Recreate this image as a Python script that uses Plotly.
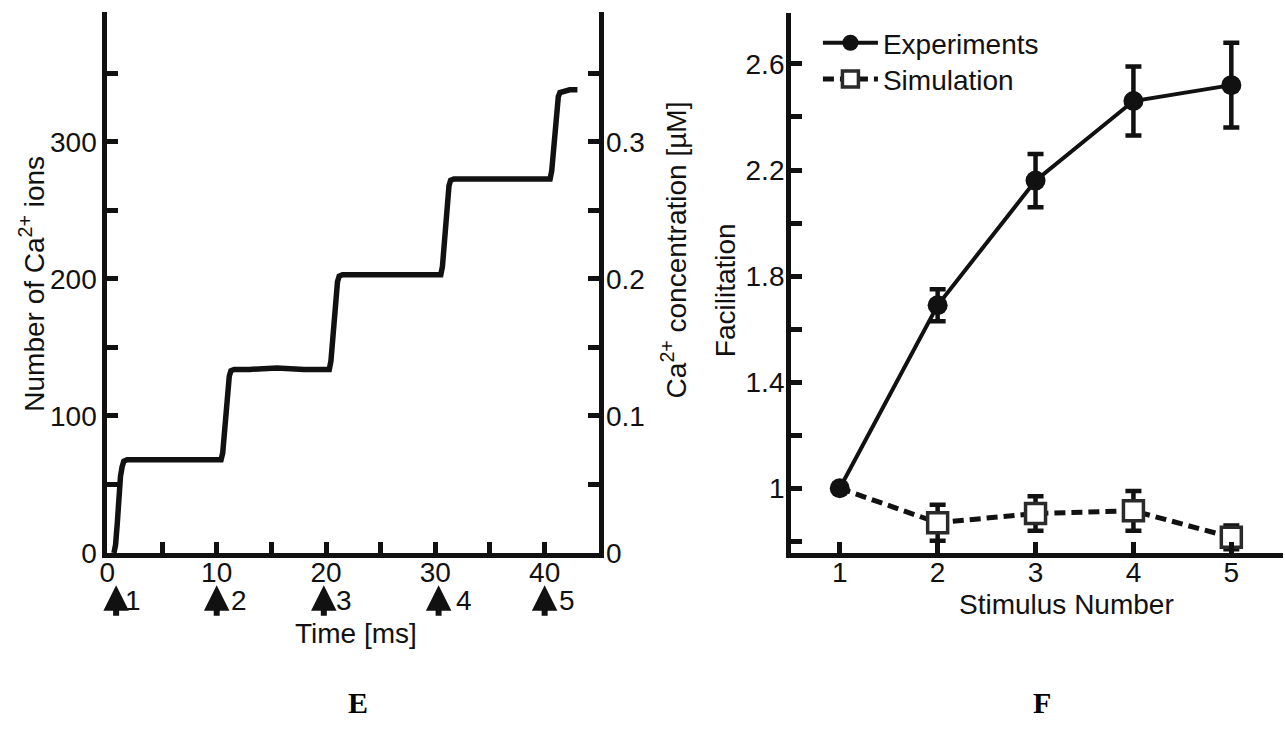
import plotly.graph_objects as go

# ---------------- Panel E data: number of Ca2+ ions vs time ----------------
time_ms = [0.6, 0.75, 0.9, 1.05, 1.2, 1.35, 1.5, 1.8,
           3.0, 5.5, 8.0, 10.4,
           10.55, 10.7, 10.85, 11.0, 11.15, 11.3, 11.6,
           13.0, 15.5, 18.0, 20.3,
           20.45, 20.6, 20.75, 20.9, 21.05, 21.2, 21.5,
           23.0, 25.5, 28.0, 30.5,
           30.65, 30.8, 30.95, 31.1, 31.25, 31.4, 31.7,
           33.0, 35.5, 38.0, 40.5,
           40.65, 40.8, 40.95, 41.1, 41.25, 41.4, 41.7,
           42.3, 43.0]
ca_ions = [0, 6, 21, 41, 56, 63, 67, 68,
           68, 69, 68, 68,
           73, 88, 108, 122, 129, 133, 134,
           134, 135, 134, 134,
           140, 155, 176, 191, 198, 202, 203,
           203, 203, 204, 203,
           209, 224, 245, 261, 268, 272, 273,
           273, 273, 274, 273,
           279, 293, 313, 327, 333, 336, 337,
           338, 338]

stim_times = [0.8, 10.0, 19.8, 30.3, 40.0]
stim_labels = ["1", "2", "3", "4", "5"]
stim_label_shift = [17, 22, 20, 25, 22]

e_xticks = [0, 5, 10, 15, 20, 25, 30, 35, 40]
e_xticktext = ["0", "", "10", "", "20", "", "30", "", "40"]
e_yticks = [0, 50, 100, 150, 200, 250, 300, 350]
e_yticktext = ["0", "", "100", "", "200", "", "300", ""]
e_y2ticks = [0, 0.05, 0.1, 0.15, 0.2, 0.25, 0.3, 0.35]
e_y2ticktext = ["0", "", "0.1", "", "0.2", "", "0.3", ""]

# ---------------- Panel F data: facilitation ----------------
stimulus = [1, 2, 3, 4, 5]
exp_fac = [1.0, 1.69, 2.16, 2.46, 2.52]
exp_err = [0.0, 0.06, 0.10, 0.13, 0.16]
sim_fac = [1.0, 0.87, 0.905, 0.915, 0.815]
sim_err = [0.0, 0.068, 0.065, 0.075, 0.045]

f_yticks = [0.8, 1.0, 1.2, 1.4, 1.6, 1.8, 2.0, 2.2, 2.4, 2.6]
f_yticktext = ["", "1", "", "1.4", "", "1.8", "", "2.2", "", "2.6"]

W, H = 1285, 753
FONT = "Liberation Sans, Arial, sans-serif"
FS = 28
INK = "#111111"
SQ_EDGE = "#2a2a2a"


def px(x):
    return x / W


def py(y):
    return 1 - y / H


fig = go.Figure()

# Panel E curve
fig.add_trace(go.Scatter(x=time_ms, y=ca_ions, mode="lines",
                         line=dict(color=INK, width=5.5),
                         xaxis="x", yaxis="y", showlegend=False,
                         hoverinfo="skip"))
# empty trace to activate the concentration axis
fig.add_trace(go.Scatter(x=[], y=[], xaxis="x", yaxis="y2",
                         showlegend=False, hoverinfo="skip"))

# Panel F: simulation dashed line
fig.add_trace(go.Scatter(x=stimulus, y=sim_fac, mode="lines",
                         line=dict(color=INK, width=5, dash="11px,6px"),
                         xaxis="x2", yaxis="y3", showlegend=False,
                         hoverinfo="skip"))
# simulation squares with error bars (first point hidden under the circle)
fig.add_trace(go.Scatter(x=stimulus[1:], y=sim_fac[1:], mode="markers",
                         marker=dict(symbol="square", size=20, color="white",
                                     line=dict(color=SQ_EDGE, width=3.5)),
                         error_y=dict(type="data", array=sim_err[1:], visible=True,
                                      color=INK, thickness=4.5, width=8),
                         xaxis="x2", yaxis="y3", showlegend=False,
                         hoverinfo="skip"))
# experiments
fig.add_trace(go.Scatter(x=stimulus, y=exp_fac, mode="lines+markers",
                         name="Experiments", legend="legend",
                         line=dict(color=INK, width=4),
                         marker=dict(symbol="circle", size=20, color=INK),
                         error_y=dict(type="data", array=exp_err, visible=True,
                                      color=INK, thickness=4.5, width=8),
                         xaxis="x2", yaxis="y3", hoverinfo="skip"))
# legend entry for simulation
fig.add_trace(go.Scatter(x=[None], y=[None], mode="lines+markers",
                         name="Simulation", legend="legend2",
                         line=dict(color=INK, width=5, dash="11px,6px"),
                         marker=dict(symbol="square", size=19, color="white",
                                     line=dict(color=SQ_EDGE, width=3.5)),
                         xaxis="x2", yaxis="y3", hoverinfo="skip"))

axis_common = dict(ticks="inside", ticklen=11, tickwidth=5, tickcolor=INK,
                   showline=True, linewidth=5, linecolor=INK,
                   showgrid=False, zeroline=False,
                   tickfont=dict(family=FONT, size=FS, color=INK))

legend_common = dict(xanchor="left", yanchor="middle", itemwidth=55,
                     bgcolor="rgba(0,0,0,0)",
                     font=dict(family=FONT, size=FS, color=INK))

fig.update_layout(
    width=W, height=H,
    margin=dict(l=0, r=0, t=0, b=0),
    paper_bgcolor="white", plot_bgcolor="white",
    font=dict(family=FONT, size=FS, color=INK),
    xaxis=dict(domain=[px(100), px(595)], range=[0, 45], anchor="y",
               tickmode="array", tickvals=e_xticks, ticktext=e_xticktext,
               ticklabelstandoff=-10, **axis_common),
    yaxis=dict(domain=[py(565), py(12)], range=[0, 395], anchor="x",
               tickmode="array", tickvals=e_yticks, ticktext=e_yticktext,
               **axis_common),
    yaxis2=dict(overlaying="y", side="right", anchor="x", range=[0, 0.395],
                tickmode="array", tickvals=e_y2ticks, ticktext=e_y2ticktext,
                ticklabelstandoff=-4, **axis_common),
    xaxis2=dict(domain=[px(788), px(1283)], range=[0.503, 5.528], anchor="y3",
                tickmode="array", tickvals=stimulus,
                ticktext=[str(s) for s in stimulus],
                ticklabelstandoff=-10, **axis_common),
    yaxis3=dict(domain=[py(565), py(13)], range=[0.756, 2.793], anchor="x2",
                tickmode="array", tickvals=f_yticks, ticktext=f_yticktext,
                ticklabelstandoff=-4, **axis_common),
    legend=dict(x=px(815), y=py(44), **legend_common),
    legend2=dict(x=px(815), y=py(81), **legend_common),
    showlegend=True,
)

annotations = []
# stimulus arrows below the time axis
for t, lab, sh in zip(stim_times, stim_labels, stim_label_shift):
    annotations.append(dict(x=t, y=py(598), xref="x", yref="paper", text="",
                            showarrow=True, arrowhead=2, arrowsize=0.85,
                            arrowwidth=6, arrowcolor=INK, ax=0, ay=32))
    annotations.append(dict(x=t, y=py(614), xref="x", yref="paper", text=lab,
                            showarrow=False, xshift=sh, xanchor="center",
                            yanchor="middle",
                            font=dict(family=FONT, size=FS, color=INK)))

titles = [
    ("Number of Ca<sup>2+</sup> ions", 24, 290, -90),
    ("Ca<sup>2+</sup> concentration [µM]", 670, 255, -90),
    ("Time [ms]", 350, 647, 0),
    ("Facilitation", 722, 297, -90),
    ("Stimulus Number", 1065, 618, 0),
]
for txt, x, y, ang in titles:
    annotations.append(dict(x=px(x), y=py(y), xref="paper", yref="paper",
                            text=txt, showarrow=False, textangle=ang,
                            xanchor="center", yanchor="middle",
                            font=dict(family=FONT, size=FS, color=INK)))

for txt, x in (("E", 352), ("F", 1040)):
    annotations.append(dict(x=px(x), y=py(718), xref="paper", yref="paper",
                            text="<b>" + txt + "</b>", showarrow=False,
                            xanchor="center", yanchor="middle",
                            font=dict(family="Liberation Serif, Times New Roman, serif",
                                      size=30, color="black")))

fig.update_layout(annotations=annotations)

fig.write_html("out.html")
